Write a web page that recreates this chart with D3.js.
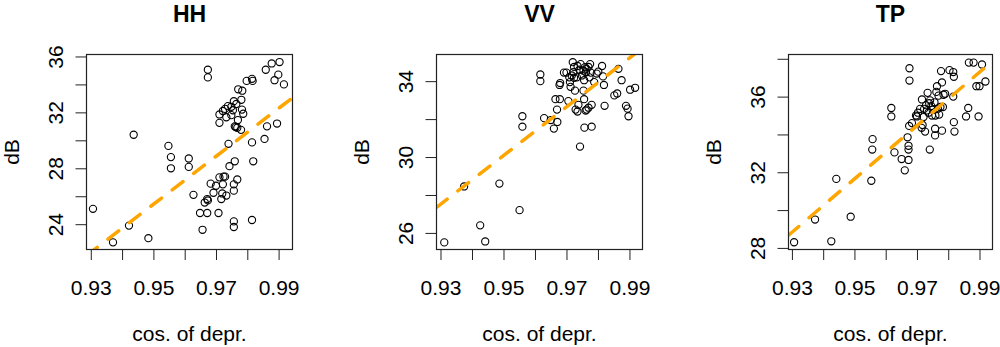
<!DOCTYPE html>
<html>
<head>
<meta charset="utf-8">
<script src="https://cdn.jsdelivr.net/npm/d3@7"></script>
<style>
  body { margin: 0; background: #fff; }
  text { font-family: "Liberation Sans", Arial, sans-serif; fill: #000; }
</style>
</head>
<body>
<svg id="chart" width="1000" height="347"></svg>
<script>
// data
var titles = ["HH", "VV", "TP"];
var xLabel = "cos. of depr.";
var yLabel = "dB";

var xTicks = [0.93, 0.94, 0.95, 0.96, 0.97, 0.98, 0.99];
var xTickLabels = [0.93, 0.95, 0.97, 0.99];

var hhTicks = [24, 26, 28, 30, 32, 34, 36];
var hhTickLabels = [24, 28, 32, 36];
var vvTicks = [26, 28, 30, 32, 34];
var vvTickLabels = [26, 30, 34];
var tpTicks = [28, 30, 32, 34, 36, 38];
var tpTickLabels = [28, 32, 36];

// fitted lines (intercept, slope)
var fitIntercept = [-137.5, -92.0, -102.4];
var fitSlope = [171.5, 128.5, 141.1];

var hhX = [0.9307, 0.9371, 0.9422, 0.9437, 0.9484, 0.9548, 0.9556, 0.9556, 0.9613, 0.9613,
  0.9628, 0.9674, 0.9674, 0.9649, 0.9672, 0.9657, 0.9664, 0.9672, 0.9674, 0.9683,
  0.9692, 0.9700, 0.9708, 0.9711, 0.9717, 0.9720, 0.9722, 0.9724, 0.9729, 0.9733,
  0.9740, 0.9743, 0.9757, 0.9757, 0.9757, 0.9757, 0.9760, 0.9768, 0.9815, 0.9819,
  0.9815, 0.9855, 0.9863, 0.9895, 0.9711, 0.9711, 0.9722, 0.9729, 0.9733, 0.9738,
  0.9749, 0.9754, 0.9757, 0.9765, 0.9770, 0.9760, 0.9768, 0.9780, 0.9781, 0.9783,
  0.9787, 0.9771, 0.9784, 0.9798, 0.9815, 0.9817, 0.9859, 0.9878, 0.9903, 0.9899,
  0.9887, 0.9917, 0.9763, 0.9749];
var hhY = [25.1, 22.7, 23.9, 30.4, 23.0, 29.6, 28.8, 28.0, 28.7, 28.1,
  26.1, 35.05, 34.5, 24.8, 24.8, 23.6, 25.55, 25.8, 25.7, 26.9,
  26.25, 26.75, 24.8, 27.35, 25.8, 26.2, 26.85, 27.4, 27.4, 26.05,
  29.75, 28.15, 24.2, 23.8, 26.85, 26.4, 28.5, 27.2, 24.3, 28.5,
  29.85, 30.1, 31.0, 31.2, 31.85, 31.25, 32.1, 32.25, 31.65, 32.45,
  32.4, 32.15, 32.8, 32.6, 31.45, 31.0, 30.9, 30.75, 32.9, 32.2,
  31.9, 33.65, 33.55, 34.25, 34.4, 34.25, 35.05, 35.5, 35.6, 34.7,
  34.3, 34.0, 30.95, 31.8];

var vvX = [0.9312, 0.9375, 0.9426, 0.9442, 0.9487, 0.9551, 0.9560, 0.9560, 0.9617, 0.9617,
  0.9629, 0.9650, 0.9660, 0.9671, 0.9670, 0.9665, 0.9679, 0.9678, 0.9680, 0.9692,
  0.9700, 0.9706, 0.9711, 0.9713, 0.9717, 0.9720, 0.9724, 0.9727, 0.9733, 0.9735,
  0.9738, 0.9735, 0.9743, 0.9745, 0.9754, 0.9756, 0.9754, 0.9756, 0.9757, 0.9761,
  0.9764, 0.9770, 0.9770, 0.9775, 0.9777, 0.9780, 0.9780, 0.9788, 0.9796, 0.9801,
  0.9813, 0.9816, 0.9819, 0.9821, 0.9852, 0.9861, 0.9865, 0.9875, 0.9889, 0.9894,
  0.9897, 0.9902, 0.9918, 0.9709, 0.9724, 0.9749, 0.9762, 0.9773, 0.9759, 0.9741,
  0.9722, 0.9729, 0.9764];
var vvY = [25.5, 28.45, 26.4, 25.55, 28.6, 27.2, 32.15, 31.6, 34.35, 34.0,
  32.05, 31.95, 31.5, 31.85, 32.5, 33.05, 33.05, 33.8, 33.9, 34.45,
  34.45, 32.95, 33.95, 33.7, 34.3, 35.0, 34.75, 33.5, 34.2, 34.8,
  32.75, 32.4, 30.55, 34.9, 34.55, 34.05, 33.5, 33.05, 31.55, 32.45,
  34.65, 32.6, 34.75, 34.9, 34.45, 32.75, 31.6, 33.95, 34.4, 34.5,
  34.8, 34.25, 33.8, 32.7, 33.25, 33.35, 34.65, 34.05, 32.7, 32.55,
  32.15, 33.55, 33.65, 34.2, 34.18, 34.3, 34.47, 34.2, 34.74, 34.6,
  34.47, 32.5, 32.5];

var tpX = [0.9307, 0.9374, 0.9426, 0.9442, 0.9488, 0.9554, 0.9557, 0.9558, 0.9618, 0.9618,
  0.9628, 0.9651, 0.9661, 0.9673, 0.9673, 0.9673, 0.9670, 0.9676, 0.9676, 0.9675,
  0.9684, 0.9697, 0.9703, 0.9710, 0.9716, 0.9715, 0.9718, 0.9723, 0.9726, 0.9729,
  0.9734, 0.9737, 0.9739, 0.9741, 0.9746, 0.9750, 0.9756, 0.9758, 0.9758, 0.9759,
  0.9762, 0.9764, 0.9769, 0.9771, 0.9775, 0.9780, 0.9780, 0.9777, 0.9785, 0.9790,
  0.9783, 0.9804, 0.9816, 0.9818, 0.9816, 0.9818, 0.9820, 0.9857, 0.9864, 0.9897,
  0.9866, 0.9881, 0.9890, 0.9900, 0.9908, 0.9919, 0.9700, 0.9721, 0.9732, 0.9748,
  0.9767, 0.9742];
var tpY = [28.3, 29.5, 28.35, 31.65, 29.65, 31.55, 33.2, 33.75, 35.4, 34.95,
  33.05, 32.7, 32.1, 32.65, 33.2, 33.4, 33.85, 37.5, 36.85, 34.45,
  34.6, 35.0, 35.15, 35.35, 35.85, 34.35, 34.5, 35.35, 34.15, 35.55,
  36.2, 35.15, 35.65, 33.2, 35.5, 35.3, 35.7, 34.3, 33.95, 35.0,
  36.25, 36.55, 36.05, 35.05, 35.45, 34.2, 36.75, 37.35, 36.1, 36.15,
  35.45, 37.4, 37.3, 37.05, 36.0, 34.65, 34.15, 34.95, 35.4, 34.95,
  37.8, 37.8, 36.55, 36.55, 37.7, 36.8, 34.95, 34.92, 35.27, 35.0,
  35.36, 35.8];

// panel layout (box in px, axis domains)
var panels = [
  { x0: 86.5, x1: 292.5, xd: [0.92863, 0.99444], yd: [22.19, 36.14], xs: hhX, ys: hhY, yt: hhTicks, yl: hhTickLabels },
  { x0: 436.5, x1: 642.5, xd: [0.92873, 0.99414], yd: [25.126, 35.405], xs: vvX, ys: vvY, yt: vvTicks, yl: vvTickLabels },
  { x0: 788.5, x1: 992.5, xd: [0.92891, 0.99416], yd: [27.916, 38.227], xs: tpX, ys: tpY, yt: tpTicks, yl: tpTickLabels }
];
var plotTop = 54.5, plotBottom = 249.5;

var svg = d3.select("#chart");

panels.forEach(function(p, i) {
  var x = d3.scaleLinear().domain(p.xd).range([p.x0, p.x1]);
  var y = d3.scaleLinear().domain(p.yd).range([plotBottom, plotTop]);
  var g = svg.append("g");

  g.append("clipPath").attr("id", "clip" + i)
    .append("rect")
    .attr("x", p.x0).attr("y", plotTop)
    .attr("width", p.x1 - p.x0).attr("height", plotBottom - plotTop);

  // x axis
  var xa = g.append("g")
    .attr("transform", "translate(0," + plotBottom + ")")
    .call(d3.axisBottom(x).tickValues(xTicks).tickSize(10.5).tickSizeOuter(0)
      .tickFormat(function(d) {
        return xTickLabels.some(function(v) { return Math.abs(v - d) < 1e-6; }) ? d3.format(".2f")(d) : "";
      }));
  xa.select(".domain").remove();
  xa.selectAll("line").attr("stroke", "#222");
  xa.selectAll("text")
    .attr("y", 45.5).attr("dy", 0)
    .style("font-size", "21px")
    .style("font-family", "'Liberation Sans', Arial, sans-serif")
    .attr("fill", "#000");

  // y axis
  var ya = g.append("g")
    .attr("transform", "translate(" + p.x0 + ",0)")
    .call(d3.axisLeft(y).tickValues(p.yt).tickSize(11).tickSizeOuter(0)
      .tickFormat(function(d) { return p.yl.indexOf(d) >= 0 ? d : ""; }));
  ya.select(".domain").remove();
  ya.selectAll("line").attr("stroke", "#222");
  ya.selectAll("text")
    .attr("x", 0).attr("dy", 0)
    .attr("transform", "translate(-23.5,0) rotate(-90)")
    .attr("text-anchor", "middle")
    .style("font-size", "21px")
    .style("font-family", "'Liberation Sans', Arial, sans-serif")
    .attr("fill", "#000");

  // points
  g.append("g").selectAll("circle")
    .data(p.xs.map(function(v, k) { return [v, p.ys[k]]; }))
    .enter().append("circle")
    .attr("cx", function(d) { return x(d[0]); })
    .attr("cy", function(d) { return y(d[1]); })
    .attr("r", 3.6)
    .attr("fill", "none")
    .attr("stroke", "#000")
    .attr("stroke-width", 1.1);

  // fitted dashed line
  var fx = p.xd;
  g.append("line")
    .attr("clip-path", "url(#clip" + i + ")")
    .attr("x1", x(fx[0])).attr("y1", y(fitIntercept[i] + fitSlope[i] * fx[0]))
    .attr("x2", x(fx[1])).attr("y2", y(fitIntercept[i] + fitSlope[i] * fx[1]))
    .attr("stroke", "#FFA500")
    .attr("stroke-width", 3.5)
    .attr("stroke-dasharray", "13.5,13.5")
    .attr("stroke-linecap", "round");

  // box
  g.append("rect")
    .attr("x", p.x0).attr("y", plotTop)
    .attr("width", p.x1 - p.x0).attr("height", plotBottom - plotTop)
    .attr("fill", "none")
    .attr("stroke", "#222")
    .attr("stroke-width", 1.2);

  var cx = (p.x0 + p.x1) / 2;
  g.append("text")
    .attr("x", cx).attr("y", 21.5)
    .attr("text-anchor", "middle")
    .style("font-size", "23px").style("font-weight", "bold")
    .text(titles[i]);

  g.append("text")
    .attr("x", cx).attr("y", 341)
    .attr("text-anchor", "middle")
    .style("font-size", "21px")
    .text(xLabel);

  g.append("text")
    .attr("transform", "translate(" + (p.x0 - 68) + "," + ((plotTop + plotBottom) / 2) + ") rotate(-90)")
    .attr("text-anchor", "middle")
    .style("font-size", "21px")
    .text(yLabel);
});
</script>
</body>
</html>
